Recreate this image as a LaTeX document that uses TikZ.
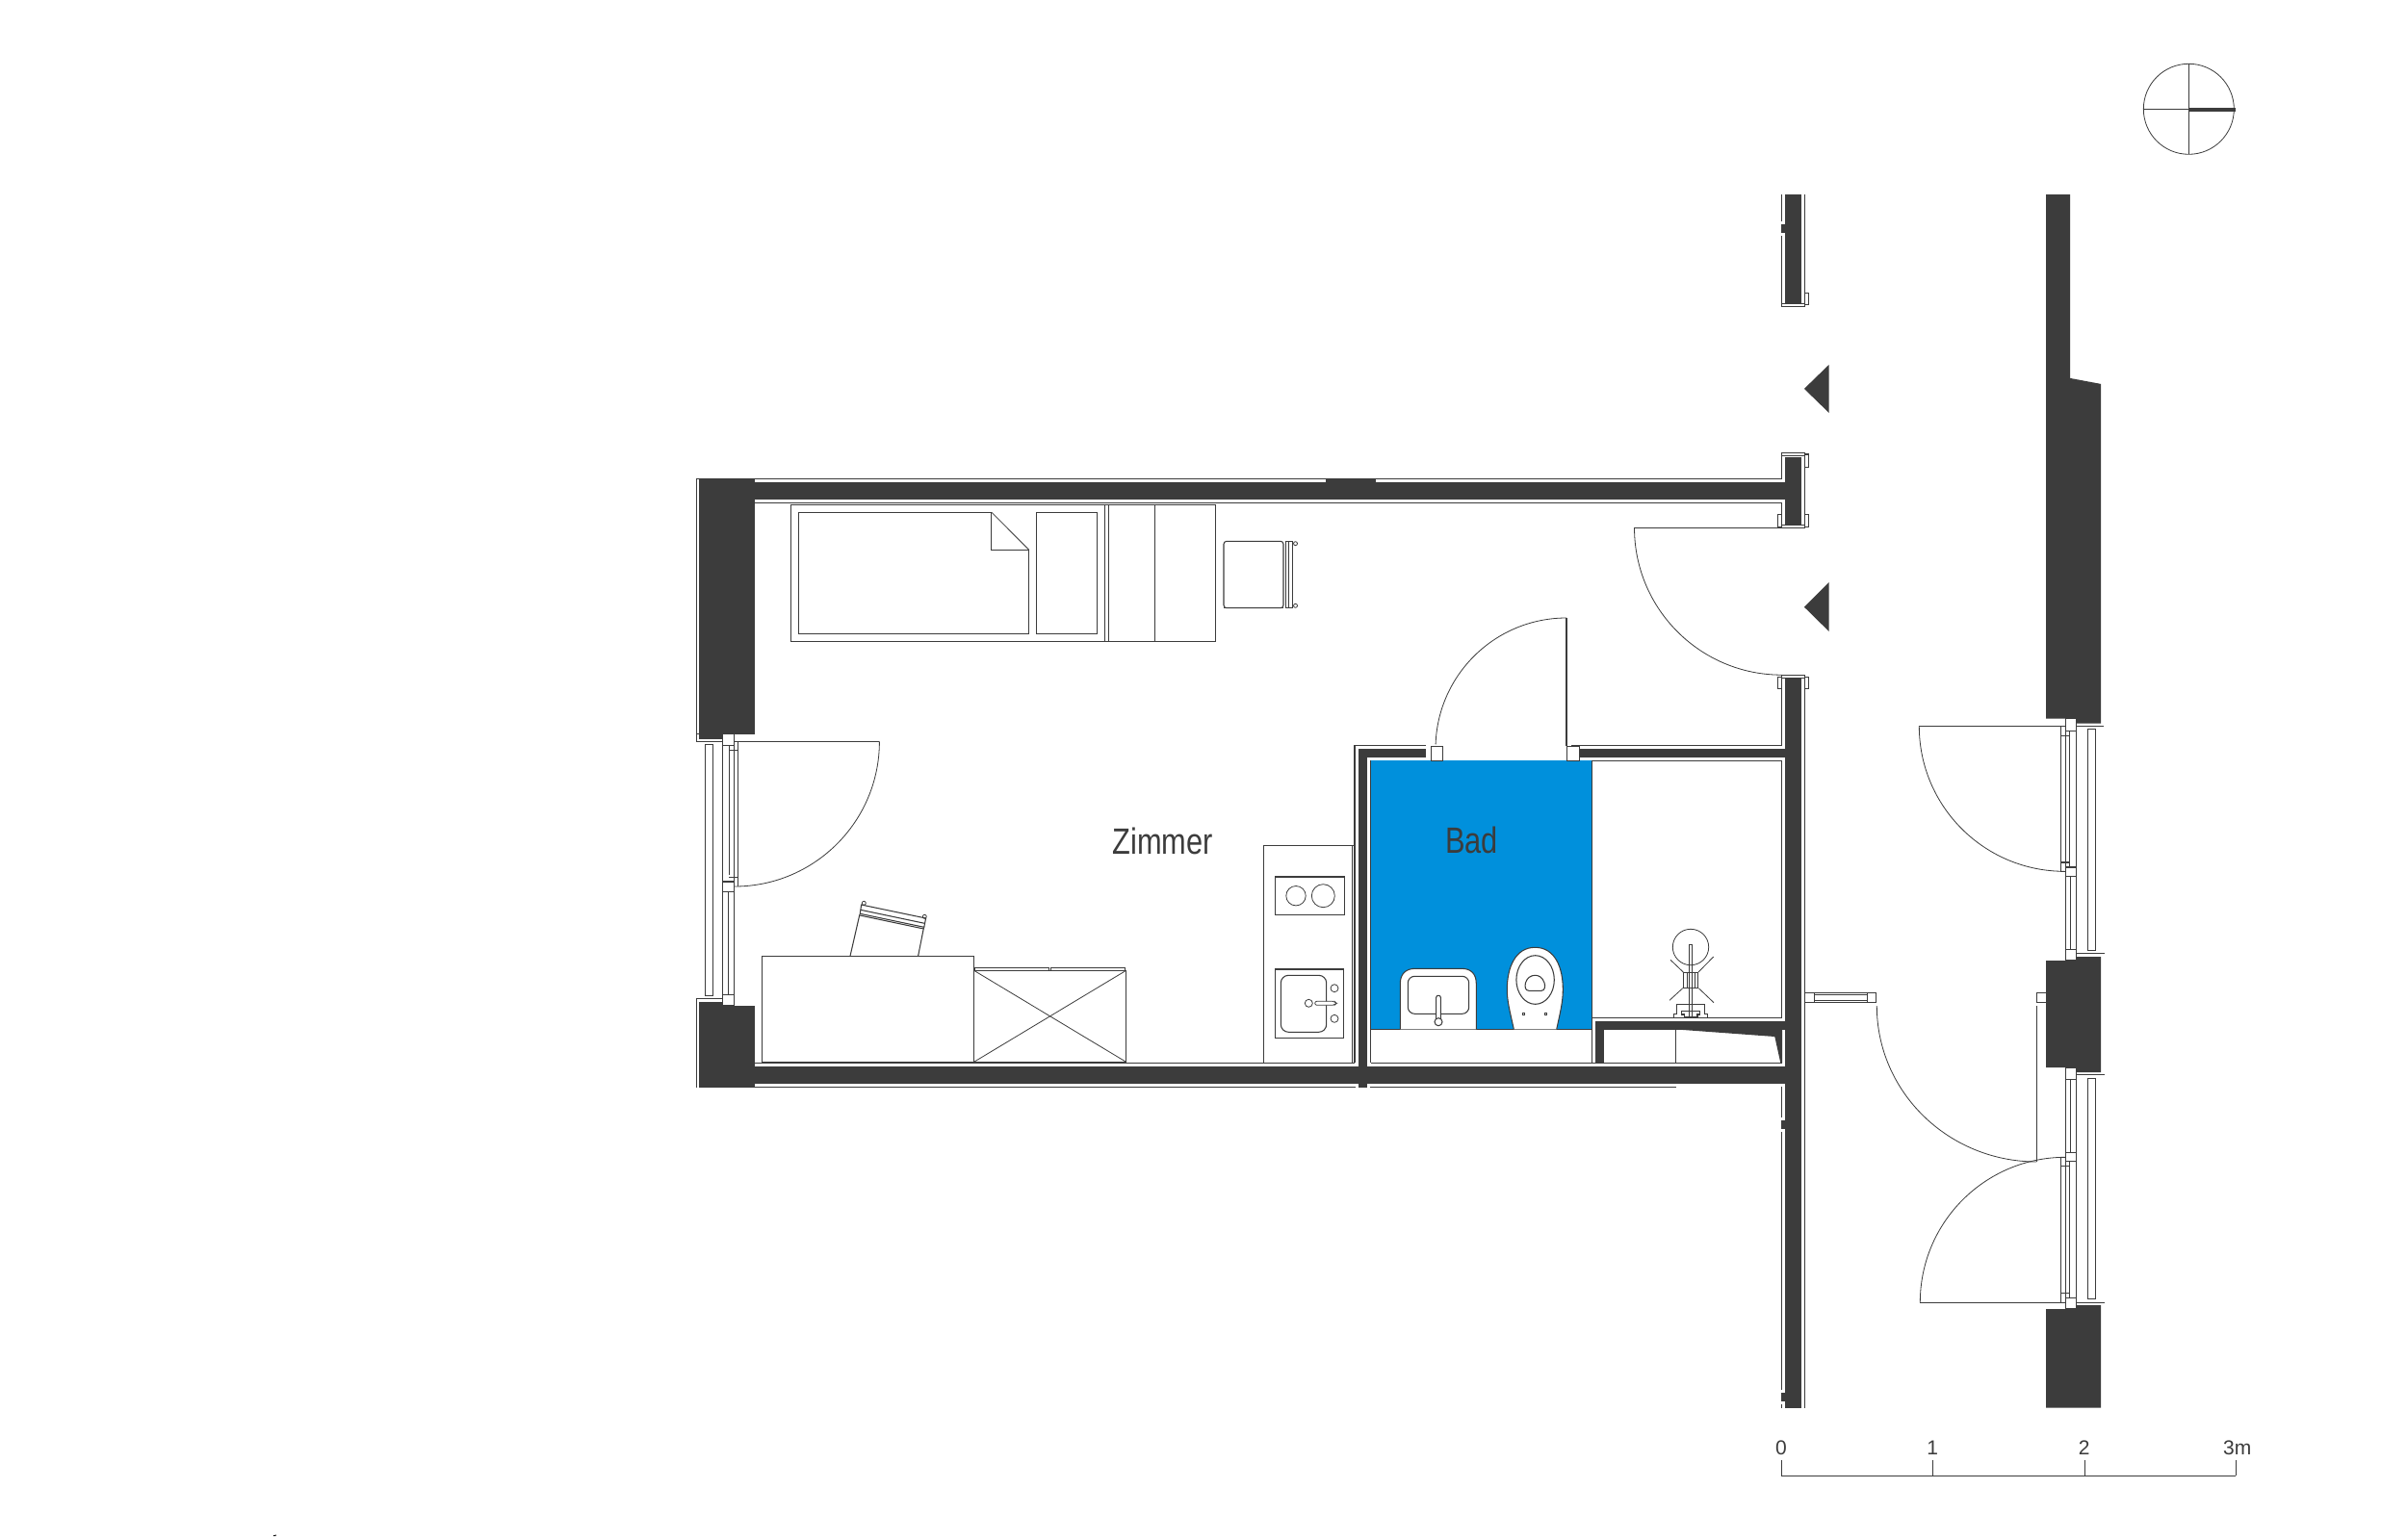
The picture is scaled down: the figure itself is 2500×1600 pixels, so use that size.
\documentclass[tikz,border=0pt]{standalone}
\usepackage{fontspec}
\setmainfont{Liberation Sans}
\newfontfamily\narrowf[FakeStretch=0.81]{Liberation Sans}
\definecolor{ink}{HTML}{3C3C3C}
\definecolor{bath}{HTML}{0090DC}
\tikzset{
  thin line/.style={draw=ink,line width=1.05pt,line cap=butt},
  hair/.style={draw=ink,line width=0.8pt},
  wall/.style={fill=ink,draw=none},
  white box/.style={draw=ink,line width=1.05pt,fill=white},
  jamb box/.style={draw=ink,line width=0.8pt,fill=white},
  room label/.style={inner sep=0pt,text=ink,font=\narrowf\fontsize{38}{42}\selectfont},
  scale label/.style={inner sep=0pt,text=ink,font=\fontsize{21}{24}\selectfont},
}
\begin{document}
\begin{tikzpicture}[x=1pt,y=-1pt]
\useasboundingbox (0,0) rectangle (2500,1600);
\fill[white] (0,0) rectangle (2500,1600);
% ---------- blue bathroom
\fill[bath] (1423.6,790) rectangle (1653.6,1069.3);
% ---------- dark walls
\fill[wall] (726,497.3) rectangle (784,762.7);
\fill[wall] (726,762.7) rectangle (750.7,768);
\fill[wall] (726,1041) rectangle (750.7,1129.7);
\fill[wall] (750.7,1045) rectangle (784,1129.7);
\fill[wall] (784,501) rectangle (1854,519);
\fill[wall] (1377,497.8) rectangle (1429,501);
\fill[wall] (784,1108) rectangle (1854,1126);
\fill[wall] (1854,202) rectangle (1871,315.7);
\fill[wall] (1850.4,232.9) rectangle (1854,241.8);
\fill[wall] (1854,474.6) rectangle (1871,546);
\fill[wall] (1854,704.3) rectangle (1871,1462.7);
\fill[wall] (1411,778) rectangle (1420.2,1130);
\fill[wall] (1411,778) rectangle (1481,786.7);
\fill[wall] (1640,778) rectangle (1854,786.7);
\fill[wall] (1657,1061) rectangle (1854,1070);
\fill[wall] (1657,1070) rectangle (1666,1104.3);
\fill[wall] (1748,1070) -- (1843.3,1077) -- (1849.3,1104.3) -- (1851,1104.3) -- (1851,1070) -- cycle;
\fill[wall] (1850.4,1164) rectangle (1854,1172.7);
\fill[wall] (1850.4,1447) rectangle (1854,1455.7);
% right-hand building wall and piers
\fill[wall] (2125,202) -- (2150,202) -- (2150,392.9) -- (2182,398.9) -- (2182,751.7) -- (2156.3,751.7) -- (2156.3,746.7) -- (2125,746.7) -- cycle;
\fill[wall] (2125,998) -- (2145.3,998) -- (2145.3,994) -- (2182,994) -- (2182,1114) -- (2156.3,1114) -- (2156.3,1109) -- (2125,1109) -- cycle;
\fill[wall] (2125,1360) -- (2156.3,1360) -- (2156.3,1356) -- (2182,1356) -- (2182,1462.7) -- (2125,1462.7) -- cycle;
% arrows
\fill[wall] (1873.9,403.9) -- (1899.6,378.9) -- (1899.6,428.9) -- cycle;
\fill[wall] (1873.9,630.7) -- (1899.6,605) -- (1899.6,656) -- cycle;
% ---------- thin wall outlines
\draw[thin line] (723.7,1129.7) -- (723.7,1037.3) -- (750.7,1037.3);
\draw[thin line] (723.7,497.3) -- (723.7,770.3) -- (750.7,770.3);
\draw[thin line] (723.7,762.3) -- (726,762.3);
\draw[thin line] (723.7,497.3) -- (1850.4,497.3) -- (1850.4,473);
\draw[thin line] (784,522.3) -- (1850.4,522.3) -- (1850.4,546);
\draw[thin line] (784,1104.3) -- (1407,1104.3);
\draw[thin line] (1423.6,1104.3) -- (1850.7,1104.3);
\draw[thin line] (784,1129.3) -- (1408,1129.3);
\draw[thin line] (1422.5,1129.3) -- (1741,1129.3);
\draw[thin line] (1407,1104.3) -- (1407,774.3) -- (1481,774.3);
\draw[thin line] (1632,774.3) -- (1850.7,774.3) -- (1850.7,704.3);
\draw[thin line] (1423.6,1104.3) -- (1423.6,790.3);
\draw[thin line] (1653.6,1104.3) -- (1653.6,790.3);
\draw[thin line] (1653.6,790.3) -- (1850.7,790.3) -- (1850.7,1057.3) -- (1653.6,1057.3);
\draw[thin line] (1423.6,1069.3) -- (1653.6,1069.3);
\draw[thin line] (1850.7,1070) -- (1850.7,1104.3);
\draw[thin line] (1850.7,1129) -- (1850.7,1161);
\draw[thin line] (1850.7,1176) -- (1850.7,1444);
\draw[thin line] (1850.7,1458.7) -- (1850.7,1462.7);
\draw[thin line] (1850.4,202) -- (1850.4,230);
\draw[thin line] (1850.4,245) -- (1850.4,316);
\draw[thin line] (1874.6,202) -- (1874.6,318);
\draw[thin line] (1874.6,470.4) -- (1874.6,548);
\draw[thin line] (1874.5,701.4) -- (1874.5,1462.7);
\draw[thin line] (1850.4,701.4) -- (1850.4,715.7);
\draw[thin line] (1740.3,1070) -- (1740.3,1104.3);
% ---------- stub ends
\draw[white box] (1850.4,315.4) rectangle (1874.6,318.2);
\draw[white box] (1874.6,304.3) rectangle (1878.6,316.8);
\draw[white box] (1850.4,470.4) rectangle (1874.6,473.9);
\draw[white box] (1874.6,472) rectangle (1878.6,485.7);
\draw[white box] (1874.6,534.3) rectangle (1878.6,547.9);
\draw[white box] (1846.4,534.3) rectangle (1850.4,547.9);
\draw[white box] (1850.4,545.7) rectangle (1874.6,548.2);
\draw[white box] (1850.4,701.4) rectangle (1874.6,704.3);
\draw[white box] (1846.4,703.2) rectangle (1850.4,715.7);
\draw[white box] (1874.6,703.2) rectangle (1878.6,715.7);
% ---------- entrance door
\draw[thin line] (1850.4,548.2) -- (1697.5,548.2);
\draw[hair] (1697.5,548.2) arc[start angle=180,end angle=90,radius=153];
% ---------- bath door
\draw[thin line] (1627,775) -- (1627,642);
\draw[hair] (1627,642) arc[start angle=-90,end angle=-178,radius=136];
\draw[jamb box] (1486,775) rectangle (1498,790);
\draw[jamb box] (1627,775) rectangle (1640,790);
% ---------- left window
\draw[thin line] (732.3,773.3) rectangle (740.7,1034.7);
\draw[thin line] (750.7,774.3) -- (750.7,1033.3);
\draw[thin line] (762.7,774.3) -- (762.7,916);
\draw[thin line] (757.3,770.3) -- (757.3,908.7);
\draw[thin line] (766.3,770.3) -- (766.3,921.3);
\draw[thin line] (757.3,779.3) -- (766.3,779.3);
\draw[thin line] (757.3,911.3) -- (766.3,911.3);
\draw[thin line] (756.3,926.7) -- (756.3,1033.3);
\draw[thin line] (762.3,926.7) -- (762.3,1033.3);
\draw[white box] (750.7,762.7) rectangle (762.7,774.3);
\draw[white box] (750.7,916) rectangle (762.7,926.7);
\draw[white box] (750.7,1033.3) rectangle (762.7,1045);
\draw[thin line] (762.7,770.3) -- (913.4,770.3);
\draw[hair] (913.4,770.3) arc[start angle=0,end angle=90,radius=150.7];
% ---------- bed
\draw[thin line] (821.4,524.3) rectangle (1262.5,666.3);
\draw[thin line] (1147.8,524.3) -- (1147.8,666.3);
\draw[thin line] (1151.3,524.3) -- (1151.3,666.3);
\draw[thin line] (1199.6,524.3) -- (1199.6,666.3);
\draw[thin line] (829.5,532.3) -- (1029.9,532.3) -- (1029.9,571.3) -- (1068.8,571.3) -- (1068.8,658.3) -- (829.5,658.3) -- cycle;
\draw[hair] (1029.9,532.3) -- (1068.8,571.3);
\draw[thin line] (1076.3,532.3) rectangle (1139.7,658.3);
% ---------- chair by the bed
\draw[thin line,rounded corners=3pt] (1271,562.3) rectangle (1333,631.7);
\draw[thin line] (1335.3,562.3) rectangle (1342.9,631.7);
\draw[hair] (1338.2,562.3) -- (1338.2,631.7);
\draw[thin line] (1271,631.9) -- (1333,631.9);
\draw[hair] (1345.5,564.7) circle[radius=2];
\draw[hair] (1345.5,629.3) circle[radius=2];
% ---------- desk, chair, cupboard
\draw[thin line] (791.5,993.3) rectangle (1011.6,1103.3);
\draw[thin line] (892.9,950) -- (883,993.3);
\draw[thin line] (959.4,964) -- (953.6,993.3);
\draw[thin line] (894.6,940) -- (961.6,954) -- (959.8,963.3) -- (893.3,949.3) -- cycle;
\draw[thin line] (893.8,945.3) -- (960.3,959.3);
\draw[thin line] (893,951) -- (959.4,965);
\draw[hair] (897.3,938.3) circle[radius=2];
\draw[hair] (960.3,952.3) circle[radius=2];
\draw[thin line] (1011.6,1008.3) rectangle (1169.6,1103.3);
\draw[hair] (1011.6,1008.3) -- (1169.6,1103.3);
\draw[hair] (1169.6,1008.3) -- (1011.6,1103.3);
\draw[hair] (1012,1008.3) -- (1012,1005.3) -- (1089.5,1005.3) -- (1089.5,1008.3);
\draw[hair] (1091.2,1008.3) -- (1091.2,1005.3) -- (1168.8,1005.3) -- (1168.8,1008.3);
% ---------- kitchen
\draw[thin line] (1312.3,1104.3) -- (1312.3,878.3) -- (1407,878.3);
\draw[thin line] (1404.3,878.3) -- (1404.3,1104.3);
\draw[thin line] (1324.3,911) rectangle (1396.7,950.3);
\draw[hair] (1346,930.7) circle[radius=10.2];
\draw[hair] (1374.3,930.7) circle[radius=12];
\draw[thin line] (1324.3,1007) rectangle (1395.7,1078.7);
\draw[thin line,rounded corners=8pt] (1330.3,1013.3) rectangle (1377.7,1072.3);
\draw[hair] (1386,1026.7) circle[radius=4];
\draw[hair] (1386,1058.3) circle[radius=4];
\draw[hair] (1359.3,1042.3) circle[radius=4];
\draw[hair,fill=white,rounded corners=2pt] (1365.7,1040.3) -- (1386,1040.3) -- (1388.3,1042.3) -- (1386,1044.3) -- (1365.7,1044.3) -- cycle;
% ---------- wash basin
\draw[thin line,fill=white] (1454.3,1069.3) -- (1454.3,1022) .. controls (1454.3,1012) and (1460,1006.3) .. (1470,1006.3) -- (1518,1006.3) .. controls (1528,1006.3) and (1533.3,1012) .. (1533.3,1022) -- (1533.3,1069.3);
\draw[thin line,rounded corners=7pt] (1462.3,1014.3) rectangle (1525.7,1053.3);
\draw[thin line,fill=white,rounded corners=2pt] (1491.7,1061.7) -- (1491.7,1034.3) -- (1496.3,1034.3) -- (1496.3,1061.7);
\draw[thin line,fill=white] (1494,1061.7) circle[radius=4];
% ---------- toilet
\draw[thin line,fill=white] (1572.3,1069.3) .. controls (1568,1050) and (1565.3,1040) .. (1565.3,1028) .. controls (1565.3,1005) and (1574,984.3) .. (1594.3,984.3) .. controls (1615,984.3) and (1623.3,1005) .. (1623.3,1028) .. controls (1623.3,1040) and (1621,1050) .. (1616.7,1069.3);
\draw[thin line] (1594.6,1018) ellipse[x radius=19.7,y radius=25.3];
\draw[thin line] (1588,1029.3) -- (1601,1029.3) .. controls (1605,1029.3) and (1605,1024) .. (1604,1021) .. controls (1602,1015) and (1598,1013.3) .. (1594.3,1013.3) .. controls (1590,1013.3) and (1586,1016) .. (1584.5,1021) .. controls (1583.5,1025) and (1584,1029.3) .. (1588,1029.3) -- cycle;
\draw[hair] (1581.7,1052.3) rectangle (1583.7,1054.3);
\draw[hair] (1604.7,1052.3) rectangle (1606.7,1054.3);
% ---------- valve in the shaft
\draw[hair] (1756,984) circle[radius=18.7];
\draw[hair] (1754.7,981.3) rectangle (1757.3,1056.7);
\draw[hair] (1748.3,1010.3) rectangle (1763.7,1026.3);
\draw[hair] (1752,1010.3) -- (1752,1026.3);
\draw[hair] (1760,1010.3) -- (1760,1026.3);
\draw[hair] (1735,997.3) -- (1748.3,1010);
\draw[hair] (1779.7,994) -- (1764,1010);
\draw[hair] (1734,1039.3) -- (1747.7,1026.7);
\draw[hair] (1780,1041.7) -- (1764.3,1026.7);
\draw[thin line] (1738.3,1056.7) -- (1738.3,1053.3) -- (1741.3,1053.3) -- (1741.3,1043.3) -- (1770.7,1043.3) -- (1770.7,1053.3) -- (1773.7,1053.3) -- (1773.7,1056.7);
\draw[thin line] (1749.3,1056.7) -- (1749.3,1054) -- (1746.3,1054) -- (1746.3,1050.3) -- (1765.7,1050.3) -- (1765.7,1054) -- (1763,1054) -- (1763,1056.7);
\draw[line width=1.6pt,draw=ink] (1749.3,1056.8) -- (1763,1056.8);
% ---------- corridor door
\draw[white box] (1874.7,1031.3) rectangle (1948.7,1041.3);
\draw[thin line] (1884.7,1033.3) rectangle (1939.3,1039.7);
\draw[thin line] (1884.7,1031.3) -- (1884.7,1041.3);
\draw[thin line] (1939.3,1031.3) -- (1939.3,1041.3);
\draw[white box] (2115.3,1031.3) rectangle (2125,1041.3);
\draw[thin line] (2115.3,1045) -- (2115.3,1207);
\draw[hair] (1949.3,1045) arc[start angle=180,end angle=90,x radius=166,y radius=162];
% ---------- right windows
\foreach \yg/\yh in {757.3/987.7,1120.3/1349.3}{
  \draw[thin line] (2168.3,\yg) rectangle (2176.7,\yh);
}
\draw[thin line] (2156.3,754.3) -- (2185,754.3);
\draw[thin line] (2156.3,990.3) -- (2186,990.3);
\draw[thin line] (2156.3,1116.3) -- (2186,1116.3);
\draw[thin line] (2156.3,1353.3) -- (2186,1353.3);
\draw[thin line] (2145.3,910.3) -- (2145.3,986.3);
\draw[thin line] (2150.3,910.3) -- (2150.3,986.3);
\draw[thin line] (2156.3,910.3) -- (2156.3,986.3);
\draw[thin line] (2145.3,1121.7) -- (2145.3,1197.3);
\draw[thin line] (2150.3,1121.7) -- (2150.3,1197.3);
\draw[thin line] (2156.3,1121.7) -- (2156.3,1197.3);
% upper door
\draw[thin line] (2140.3,754.3) rectangle (2149.3,905.3);
\draw[thin line] (2145.3,759.3) -- (2145.3,901);
\draw[thin line] (2156.3,759.3) -- (2156.3,901);
\draw[thin line] (2140.3,764.3) -- (2149.3,764.3);
\draw[thin line] (2140.3,896) -- (2149.3,896);
\draw[thin line] (2140.3,754.3) -- (1993.3,754.3);
\draw[hair] (1993.3,754.3) arc[start angle=180,end angle=90,radius=151];
% lower door
\draw[thin line] (2140.3,1202.3) rectangle (2149.3,1353.3);
\draw[thin line] (2145.3,1206.7) -- (2145.3,1348.3);
\draw[thin line] (2156.3,1206.7) -- (2156.3,1348.3);
\draw[thin line] (2140.3,1211.3) -- (2149.3,1211.3);
\draw[thin line] (2140.3,1343.3) -- (2149.3,1343.3);
\draw[thin line] (2140.3,1353.3) -- (1994.3,1353.3);
\draw[hair] (1994.3,1353.3) arc[start angle=180,end angle=270,radius=151];
\draw[white box] (2145.3,746.7) rectangle (2156.3,759.3);
\draw[white box] (2145.3,901) rectangle (2156.3,910.3);
\draw[white box] (2145.3,986.3) rectangle (2156.3,998);
\draw[white box] (2145.3,1109) rectangle (2156.3,1121.7);
\draw[white box] (2145.3,1197.3) rectangle (2156.3,1206.7);
\draw[white box] (2145.3,1348.3) rectangle (2156.3,1360);
% ---------- compass
\draw[hair] (2273.3,113.3) circle[radius=47];
\draw[thin line] (2273.3,66.3) -- (2273.3,160.3);
\draw[thin line] (2226.3,113.3) -- (2273.3,113.3);
\fill[wall] (2273.3,111.7) rectangle (2321.7,115.8);
% ---------- scale bar
\coordinate (s0) at (1850.3,1533.3);
\coordinate (s1) at (2007.3,1533.3);
\coordinate (s2) at (2165.4,1533.3);
\coordinate (s3) at (2322.4,1533.3);
\draw[thin line] (s0) -- (s3);
\foreach \c in {s0,s1,s2,s3}{\draw[thin line] (\c) -- ++(0,-16.3);}
\node[scale label] (n0) at (1850,1504) {0};
\node[scale label] (n1) at (2007.3,1504) {1};
\node[scale label] (n2) at (2164.7,1504) {2};
\node[scale label,anchor=west] (n3) at (2309,1504) {3m};
% ---------- labels
\node[room label] (zimmer) at (1207.8,874) {Zimmer};
\node[room label] (bad) at (1528.6,873) {Bad};
% stray mark
\draw[black,line width=0.9pt] (284,1595.6) -- (287,1595);
\end{tikzpicture}
\end{document}
